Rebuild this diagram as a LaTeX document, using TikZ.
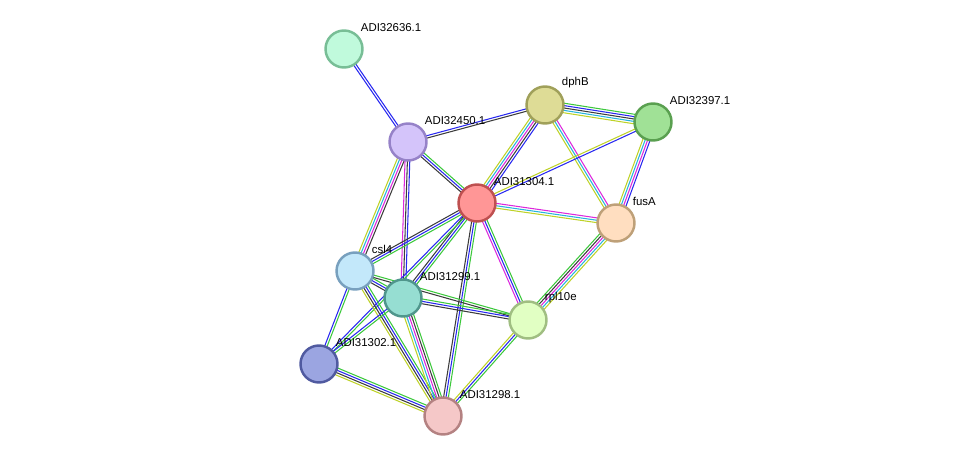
\documentclass[tikz,border=0pt]{standalone}
\usepackage{fontspec}
\setmainfont{Liberation Sans}
\usepackage{tikz}
\usetikzlibrary{calc}

\pgfdeclarelayer{bg}
\pgfsetlayers{bg,main}

% evidence colours
\definecolor{evgreen}{RGB}{60,200,60}
\definecolor{evblue}{RGB}{40,40,240}
\definecolor{evblack}{RGB}{60,60,60}
\definecolor{evmagenta}{RGB}{220,40,220}
\definecolor{evcyan}{RGB}{40,180,220}
\definecolor{evyellow}{RGB}{190,210,40}

% one line per evidence channel, side by side
\newcommand{\evlink}[3]{%
  \foreach \c [count=\i] in {#3} {\xdef\nlines{\i}}%
  \foreach \c [count=\i] in {#3} {%
    \pgfmathsetmacro\off{((\nlines+1)/2-\i)*1.35}%
    \draw[ev\c, linkline] ($(#1)!\off pt!90:(#2)$) -- ($(#2)!\off pt!-90:(#1)$);
  }%
}

\begin{document}
\begin{tikzpicture}[x=0.02cm, y=-0.02cm,
			protnode/.style={circle, line width=1.4pt, minimum size=0.74cm, inner sep=0pt},
			linkline/.style={line width=0.6pt},
			lbl/.style={font=\fontsize{6.5}{7.5}\selectfont, inner sep=0.5pt, label distance=0.05cm},
			]
			\useasboundingbox (0,0) rectangle (976,462);
			%Nodes
			\node[protnode, draw={rgb,255:red,120;green,190;blue,150}, fill={rgb,255:red,192;green,250;blue,220},
				label={[lbl]45:ADI32636.1}] (a32636) at (344,49) {};
			\node[protnode, draw={rgb,255:red,150;green,130;blue,200}, fill={rgb,255:red,212;green,196;blue,250},
				label={[lbl]45:ADI32450.1}] (a32450) at (408,142) {};
			\node[protnode, draw={rgb,255:red,160;green,160;blue,90}, fill={rgb,255:red,222;green,220;blue,150},
				label={[lbl]45:dphB}] (dphb) at (545,105) {};
			\node[protnode, draw={rgb,255:red,90;green,160;blue,80}, fill={rgb,255:red,160;green,225;blue,150},
				label={[lbl]45:ADI32397.1}] (a32397) at (653,122) {};
			\node[protnode, draw={rgb,255:red,190;green,80;blue,80}, fill={rgb,255:red,255;green,150;blue,150},
				label={[lbl]45:ADI31304.1}] (a31304) at (477,203) {};
			\node[protnode, draw={rgb,255:red,190;green,160;blue,120}, fill={rgb,255:red,255;green,222;blue,192},
				label={[lbl]45:fusA}] (fusa) at (616,223) {};
			\node[protnode, draw={rgb,255:red,120;green,160;blue,190}, fill={rgb,255:red,195;green,232;blue,250},
				label={[lbl]45:csl4}] (csl4) at (355,271) {};
			\node[protnode, draw={rgb,255:red,80;green,150;blue,140}, fill={rgb,255:red,150;green,222;blue,210},
				label={[lbl]45:ADI31299.1}] (a31299) at (403,298) {};
			\node[protnode, draw={rgb,255:red,160;green,190;blue,130}, fill={rgb,255:red,225;green,255;blue,195},
				label={[lbl]45:rpl10e}] (rpl10e) at (528,320) {};
			\node[protnode, draw={rgb,255:red,80;green,90;blue,160}, fill={rgb,255:red,155;green,165;blue,225},
				label={[lbl]45:ADI31302.1}] (a31302) at (319,364) {};
			\node[protnode, draw={rgb,255:red,180;green,130;blue,130}, fill={rgb,255:red,245;green,200;blue,200},
				label={[lbl]45:ADI31298.1}] (a31298) at (443,416) {};

			%Lines
			\begin{pgfonlayer}{bg}
			\evlink{a32636}{a32450}{blue,blue}
			\evlink{a32450}{dphb}{blue,black}
			\evlink{a32450}{a31304}{green,blue,black}
			\evlink{a32450}{csl4}{black,magenta,cyan,yellow}
			\evlink{a32450}{a31299}{blue,black,magenta}
			\evlink{dphb}{a32397}{green,blue,black,cyan,yellow}
			\evlink{dphb}{a31304}{blue,black,magenta,cyan,yellow}
			\evlink{dphb}{fusa}{magenta,cyan,yellow}
			\evlink{a32397}{a31304}{blue,yellow}
			\evlink{a32397}{fusa}{blue,magenta,cyan,yellow}
			\evlink{a31304}{fusa}{magenta,cyan,yellow}
			\evlink{a31304}{rpl10e}{green,blue,magenta}
			\evlink{a31304}{csl4}{green,blue,black}
			\evlink{a31304}{a31299}{green,blue,black}
			\evlink{a31304}{a31298}{green,blue,black}
			\evlink{a31304}{a31302}{green,blue}
			\evlink{csl4}{a31299}{green,blue,black}
			\evlink{csl4}{rpl10e}{green,black}
			\evlink{csl4}{a31302}{green,blue}
			\evlink{csl4}{a31298}{green,blue,black,yellow}
			\evlink{a31299}{a31302}{green,blue}
			\evlink{a31299}{a31298}{green,black,magenta,cyan,yellow}
			\evlink{a31299}{rpl10e}{green,blue,black}
			\evlink{a31302}{a31298}{green,blue,black,yellow}
			\evlink{rpl10e}{a31298}{green,blue,yellow}
			\evlink{rpl10e}{fusa}{green,black,magenta,cyan,yellow}
			\end{pgfonlayer}
		\end{tikzpicture}
\end{document}
